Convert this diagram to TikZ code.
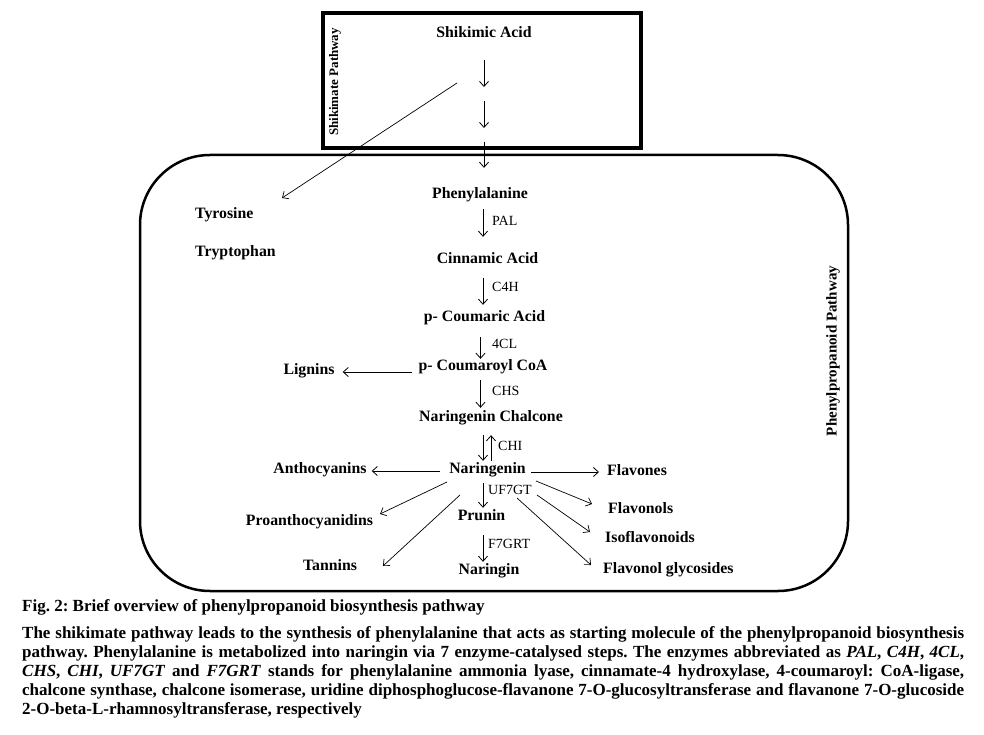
\documentclass[tikz,border=0pt]{standalone}
\usepackage{fontspec}
\setmainfont{Liberation Serif}
\usetikzlibrary{arrows.meta,calc}
\setlength\parindent{0pt}
\frenchspacing
\begin{document}
\begin{tikzpicture}[x=1pt,y=-1pt,
  nm/.style={font=\fontsize{15.8}{18}\selectfont\bfseries, inner sep=0pt, text height=11pt, text depth=4pt},
  nmw/.style={nm, anchor=west},
  enz/.style={font=\fontsize{14}{16}\selectfont, inner sep=0pt, anchor=west, text height=10pt, text depth=3pt},
  arr/.style={-{Straight Barb[length=5pt,width=9pt]}, line width=0.8pt},
  darr/.style={arr, line width=0.7pt}]
\useasboundingbox (0,0) rectangle (984,735);
\fill[white] (0,0) rectangle (984,735);

% frames
\draw[line width=3.5pt] (323,13) rectangle (641,148);
\draw[line width=2.5pt, rounded corners=70pt] (140,155) rectangle (848,591);
\node[font=\fontsize{13}{15}\selectfont\bfseries, rotate=90, inner sep=0pt] (shikpath) at (335,82) {Shikimate Pathway};
\node[font=\fontsize{15}{17}\selectfont\bfseries, rotate=90, inner sep=0pt] (phenpath) at (833,351) {Phenylpropanoid Pathway};

% compounds
\node[nm] (shik) at (484,34) {Shikimic Acid};
\node[nm] (phe) at (480,195) {Phenylalanine};
\node[nmw] (tyr) at (195,215) {Tyrosine};
\node[nmw] (try) at (195,253) {Tryptophan};
\node[nm] (cin) at (487.5,260) {Cinnamic Acid};
\node[nm] (pcou) at (484.5,318) {p- Coumaric Acid};
\node[nm] (pcoa) at (483,367) {p- Coumaroyl CoA};
\node[nm] (lig) at (309,371) {Lignins};
\node[nm] (chal) at (491,418) {Naringenin Chalcone};
\node[nm] (nar) at (487.5,470) {Naringenin};
\node[nm] (antho) at (320,470) {Anthocyanins};
\node[nmw] (flavones) at (607,472) {Flavones};
\node[nm] (prunin) at (481.5,517) {Prunin};
\node[nm] (naringin) at (489,571) {Naringin};
\node[nm] (proantho) at (309.5,522) {Proanthocyanidins};
\node[nm] (tannins) at (330,567) {Tannins};
\node[nmw] (flavonols) at (608,510) {Flavonols};
\node[nmw] (isoflav) at (605,539) {Isoflavonoids};
\node[nmw] (flavglyc) at (603,570) {Flavonol glycosides};

% enzymes
\node[enz] (pal) at (492,222) {PAL};
\node[enz] (c4h) at (492,288) {C4H};
\node[enz] (fcl) at (492,345) {4CL};
\node[enz] (chs) at (492,392) {CHS};
\node[enz] (chi) at (498,447) {CHI};
\node[enz] (uf) at (488,491) {UF7GT};
\node[enz] (f7) at (488,545) {F7GRT};

% column coordinates
\coordinate (colA) at (483,0);
\coordinate (colB) at (480.5,0);
\coordinate (colC) at (491,0);
\coordinate (s1) at (484,94);
\coordinate (s2) at (484,135);

% shikimate steps
\draw[arr, shorten <=18.5pt, shorten >=7pt] (shik.south) -- (s1);
\draw[arr, shorten <=7pt, shorten >=7pt] (s1) -- (s2);
\draw[arr, shorten <=7pt, shorten >=19.5pt] (s2) -- (s2 |- phe.north);

% main column
\draw[arr, shorten <=6.5pt, shorten >=15.5pt] (phe.south -| colA) -- (cin.north -| colA);
\draw[arr, shorten <=10.5pt, shorten >=5.5pt] (cin.south -| colA) -- (pcou.north -| colA);
\draw[arr, shorten <=11.5pt, shorten >=0.5pt] (pcou.south -| colB) -- (pcoa.north -| colB);
\draw[arr, shorten <=5.5pt, shorten >=2.5pt] (pcoa.south -| colB) -- (chal.north -| colB);
\draw[arr, shorten <=9.5pt, shorten >=1.5pt] (chal.south -| colA) -- (nar.north -| colA);
\draw[arr, shorten <=1.5pt, shorten >=9.5pt] (nar.north -| colC) -- (chal.south -| colC);
\draw[arr, shorten <=5.5pt, shorten >=1.5pt] (nar.south -| colA) -- (prunin.north -| colA);
\draw[arr, shorten <=10.5pt, shorten >=1.5pt] (prunin.south -| colA) -- (naringin.north -| colA);

% horizontal branches
\draw[arr, shorten <=6pt, shorten >=8pt] ([yshift=-5pt]pcoa.west) -- ([yshift=-5pt]pcoa.west -| lig.east);
\draw[arr, shorten <=9pt, shorten >=5pt] ([yshift=-1pt]nar.west) -- ([yshift=-1pt]nar.west -| antho.east);
\draw[arr, shorten <=5pt, shorten >=8pt] ([yshift=-2pt]nar.east) -- ([yshift=-2pt]nar.east -| flavones.west);

% diagonal branches
\coordinate (dty0) at (457,83);   \coordinate (dty1) at (282,198);
\coordinate (dpa0) at (447,482);  \coordinate (dpa1) at (380,514);
\coordinate (dta0) at (460,495);  \coordinate (dta1) at (383,566);
\coordinate (dfo0) at (536,481);  \coordinate (dfo1) at (592,504);
\coordinate (dis0) at (537,495);  \coordinate (dis1) at (590,532);
\coordinate (dgl0) at (517,498);  \coordinate (dgl1) at (591,565);
\draw[darr] (dty0) -- (dty1);
\draw[darr] (dpa0) -- (dpa1);
\draw[darr] (dta0) -- (dta1);
\draw[darr] (dfo0) -- (dfo1);
\draw[darr] (dis0) -- (dis1);
\draw[darr] (dgl0) -- (dgl1);

% caption
\node[anchor=north west, inner sep=0pt, text width=942pt, align=justify,
      font=\fontsize{17}{19}\selectfont\bfseries] (cap) at (22,599)
{\hyphenpenalty=10000 Fig. 2: Brief overview of phenylpropanoid biosynthesis pathway\\[8pt]
The shikimate pathway leads to the synthesis of phenylalanine that acts as starting molecule of the phenylpropanoid biosynthesis\linebreak
pathway. Phenylalanine is metabolized into naringin via 7 enzyme-catalysed steps. The enzymes abbreviated as \textit{PAL}, \textit{C4H}, \textit{4CL},\linebreak
\textit{CHS}, \textit{CHI}, \textit{UF7GT} and \textit{F7GRT} stands for phenylalanine ammonia lyase, cinnamate-4 hydroxylase, 4-coumaroyl: CoA-ligase,\linebreak
chalcone synthase, chalcone isomerase, uridine diphosphoglucose-flavanone 7-O-glucosyltransferase and flavanone 7-O-glucoside\linebreak
2-O-beta-L-rhamnosyltransferase, respectively};
\end{tikzpicture}
\end{document}
